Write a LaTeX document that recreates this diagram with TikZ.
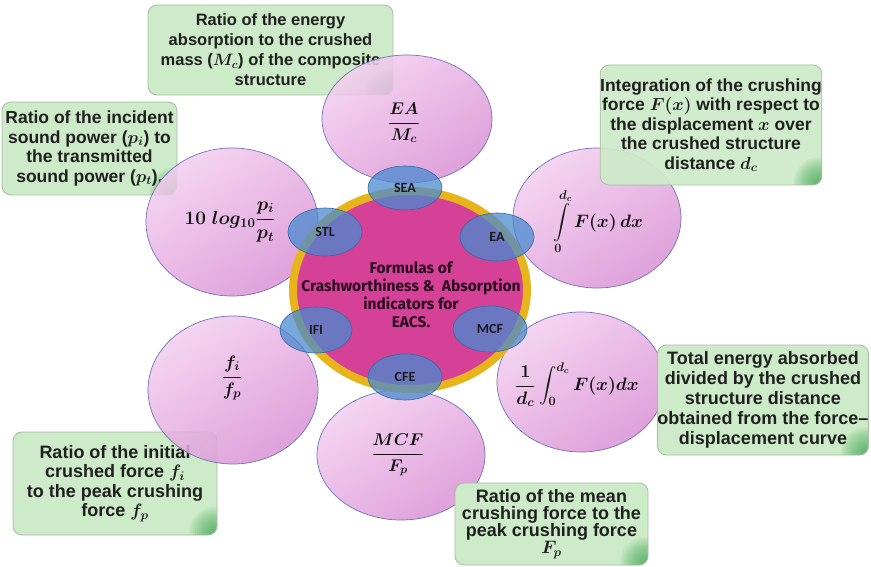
\RequirePackage{fix-cm}
\documentclass[tikz,border=0pt]{standalone}
\usepackage[no-math]{fontspec}
\usepackage{amsmath}
\newfontfamily\boxfont{Liberation Sans}
\newfontfamily\labfont{Carlito}
\newfontfamily\centfont{Fira Sans}
\usetikzlibrary{shapes.geometric}
\newcommand\bmm[1]{\mbox{\boldmath$#1$}}
\definecolor{boxgreen}{HTML}{CDEBC8}
\definecolor{boxedge}{HTML}{A8BCA4}
\definecolor{glow}{HTML}{2E9E45}
\definecolor{pinkA}{HTML}{F4CEF0}
\definecolor{pinkB}{HTML}{DA92D5}
\definecolor{pinkedge}{HTML}{6E74B8}
\definecolor{ringyellow}{HTML}{E8B41C}
\definecolor{magent}{HTML}{D54196}
\definecolor{blueell}{HTML}{4A8AD0}
\definecolor{blueedge}{HTML}{3469A6}
\definecolor{ctext}{HTML}{2A0C20}
\tikzset{
  gbox/.style={draw=boxedge, line width=0.8pt, fill=boxgreen, rounded corners=9pt,
    inner sep=0pt, align=center, text=black!88,
    path picture={
      \foreach \rr in {26,24,...,2}
        \fill[glow, fill opacity=0.075, draw=none]
          ([xshift=-2pt,yshift=2pt]path picture bounding box.south east) circle (\rr pt);}},
  pell/.style={ellipse, draw=pinkedge, line width=0.7pt, top color=pinkA, bottom color=pinkB,
    shading angle=35, fill opacity=0.86, inner sep=0pt},
  bell/.style={ellipse, draw=blueedge, line width=0.6pt, fill=blueell, fill opacity=0.75,
    text opacity=1, inner sep=0pt, text=black!90,
    font=\labfont\bfseries\fontsize{14}{15}\selectfont},
  ftext/.style={inner sep=0pt, text=black!92},
}
\begin{document}
\begin{tikzpicture}[x=1pt,y=-1pt]
\useasboundingbox (0,0) rectangle (871,567);
\fill[white] (0,0) rectangle (871,567);

% boxes beneath the ellipses
\node[gbox, minimum width=245pt, minimum height=90pt,
  font=\boxfont\bfseries\fontsize{16.5}{20}\selectfont] (bsea) at (270.5,50)
  {Ratio of the energy\\ absorption to the crushed\\ mass (\bmm{M_c}) of the composite\\ structure};
\node[gbox, minimum width=175pt, minimum height=93pt,
  font=\boxfont\bfseries\fontsize{17.5}{19.5}\selectfont] (bstl) at (89.5,148.5)
  {Ratio of the incident\\ sound power (\bmm{p_i}) to\\ the transmitted\\ sound power (\bmm{p_t}).};
\node[gbox, minimum width=204pt, minimum height=103pt,
  font=\boxfont\bfseries\fontsize{18}{19.5}\selectfont] (bifi) at (115,483.5)
  {Ratio of the initial\\ crushed force \bmm{f_i}\\ to the peak crushing\\ force \bmm{f_p}};

% big pink ellipses
\node[pell, minimum width=170pt, minimum height=128pt] (e1) at (407,119) {};
\node[pell, minimum width=172pt, minimum height=148pt] (e2) at (232,222) {};
\node[pell, minimum width=168pt, minimum height=140pt] (e3) at (597,218) {};
\node[pell, minimum width=170pt, minimum height=148pt] (e4) at (233,390) {};
\node[pell, minimum width=168pt, minimum height=140pt] (e5) at (581,382) {};
\node[pell, minimum width=168pt, minimum height=130pt] (e6) at (401,455) {};

% formulas
\node[ftext, font=\fontsize{17}{20}\selectfont] (f1) at (404,123) {\bmm{\dfrac{EA}{M_c}}};
\node[ftext, font=\fontsize{19}{22}\selectfont] (f2) at (230,222) {\bmm{10\ log_{10}\dfrac{p_i}{p_t}}};
\node[ftext, font=\fontsize{18}{22}\selectfont] (f3) at (598,222) {\bmm{\displaystyle\int\limits_0^{d_c}F(x)\,dx}};
\node[ftext, font=\fontsize{18}{22}\selectfont] (f4) at (232,378) {\bmm{\dfrac{f_i}{f_p}}};
\node[ftext, font=\fontsize{18}{22}\selectfont] (f5) at (577,385) {\bmm{\displaystyle\frac{1}{d_c}\int_0^{d_c}F(x)dx}};
\node[ftext, font=\fontsize{17}{20}\selectfont] (f6) at (398,455) {\bmm{\dfrac{MCF}{F_p}}};

% boxes above the ellipses
\node[gbox, minimum width=218pt, minimum height=120pt, fill opacity=0.92, text opacity=1,
  font=\boxfont\bfseries\fontsize{17.5}{19.5}\selectfont] (bea) at (711,125)
  {Integration of the crushing\\ force \bmm{F(x)} with respect to\\ the displacement \bmm{x} over\\ the crushed structure\\ distance \bmm{d_c}};
\node[gbox, minimum width=210pt, minimum height=110pt,
  font=\boxfont\bfseries\fontsize{18}{20}\selectfont] (bmcf) at (763,400)
  {Total energy absorbed\\ divided by the crushed\\ structure distance\\ obtained from the force–\\ displacement curve};
\node[gbox, minimum width=193pt, minimum height=82pt,
  font=\boxfont\bfseries\fontsize{18}{17}\selectfont] (bcfe) at (551.5,524)
  {Ratio of the mean\\ crushing force to the\\ peak crushing force\\ \bmm{F_p}};

% central circle
\node[ellipse, draw=ringyellow, line width=8pt, fill=magent, inner sep=0pt,
  minimum width=234pt, minimum height=198pt] (ctr) at (410,290) {};
\begin{scope}
\clip (410,290) ellipse [x radius=114, y radius=96];
\node[align=center, text=ctext, inner sep=0pt,
  font=\centfont\bfseries\fontsize{15.5}{18}\selectfont] (ctxt) at (411,295)
  {Formulas of\\ Crashworthiness \&\ \ Absorption\\ indicators for\\ EACS.};
\end{scope}

% small blue ellipses
\node[bell, minimum width=74pt, minimum height=44pt] (sea) at (405,188) {SEA};
\node[bell, minimum width=74pt, minimum height=48pt] (stl) at (325,232) {STL};
\node[bell, minimum width=74pt, minimum height=48pt] (ea) at (497,237) {EA};
\node[bell, minimum width=72pt, minimum height=46pt] (ifi) at (316,330) {IFI};
\node[bell, minimum width=74pt, minimum height=46pt] (mcf) at (490,329) {MCF};
\node[bell, minimum width=74pt, minimum height=46pt] (cfe) at (405,377) {CFE};
\end{tikzpicture}
\end{document}
